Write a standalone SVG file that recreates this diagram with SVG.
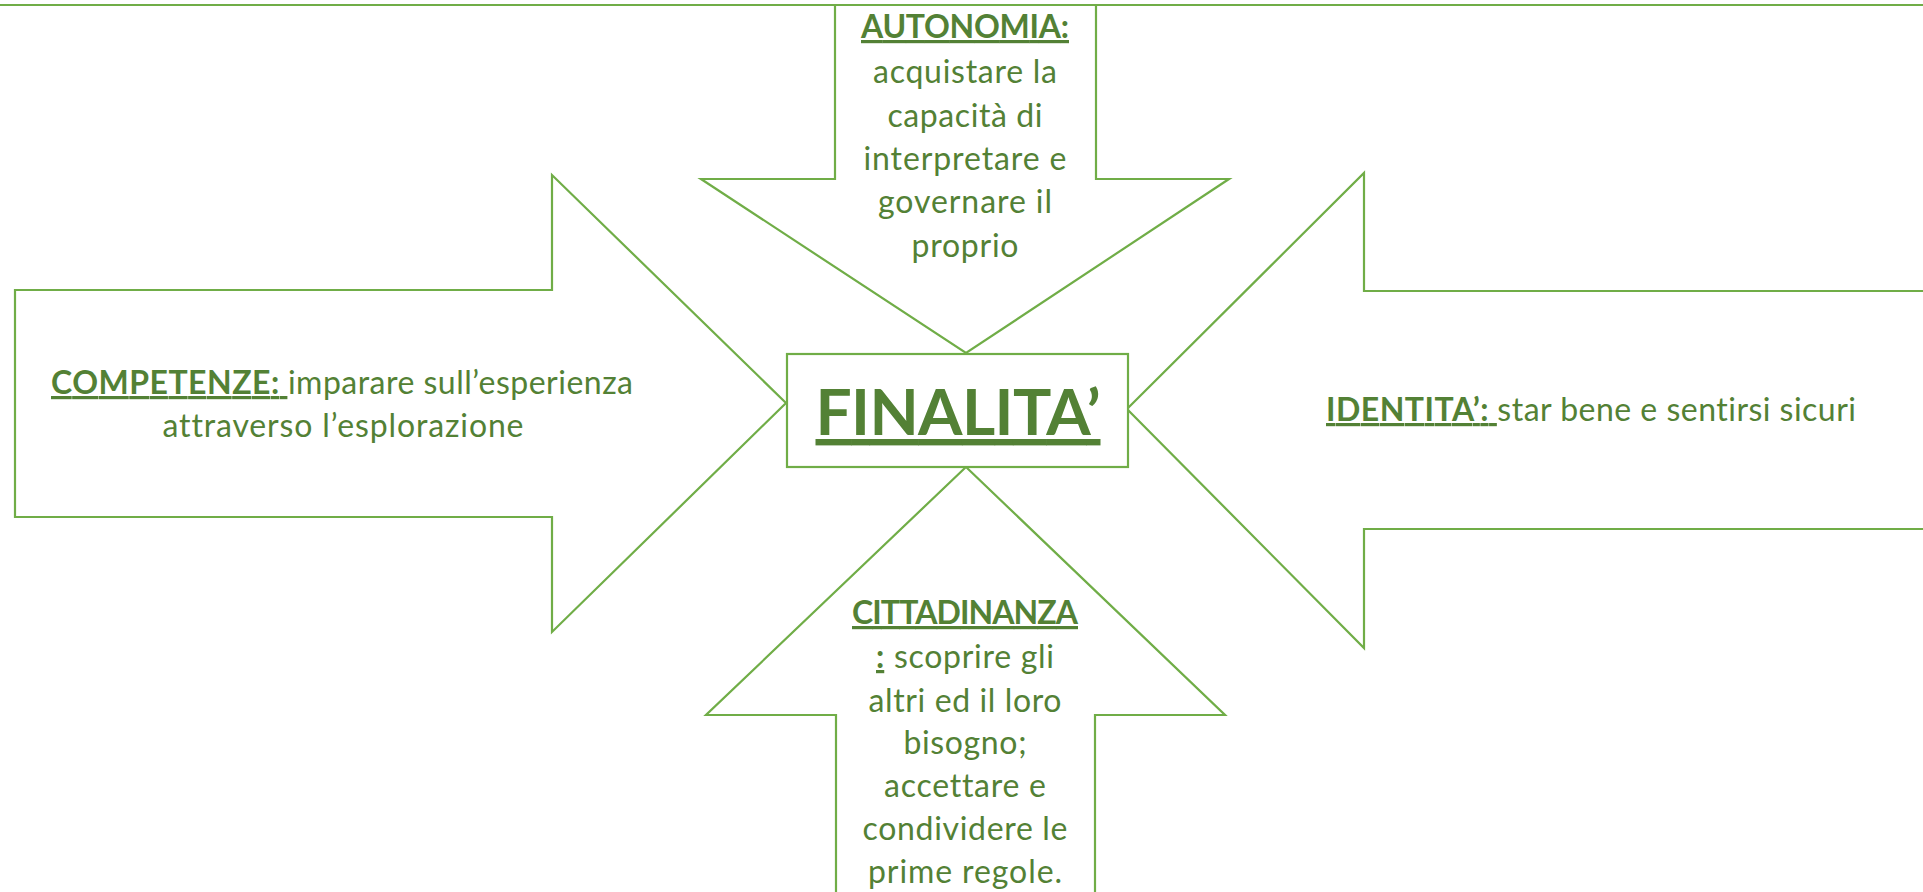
<svg xmlns="http://www.w3.org/2000/svg" width="1923" height="892" viewBox="0 0 1923 892">
<style>
.shape{fill:#ffffff;stroke:#70AD47;stroke-width:2.2;stroke-linejoin:miter}
.t{font-family:Lato,"Open Sans","Liberation Sans",sans-serif;font-size:32px;fill:#538135;font-variant-ligatures:none}
.c{text-anchor:middle}
.b{font-weight:bold}
.u{text-decoration:underline}
.big{font-family:Lato,"Open Sans","Liberation Sans",sans-serif;font-size:64px;font-weight:bold;fill:#538135;text-anchor:middle;text-decoration:underline}
</style>
<rect x="0" y="0" width="1923" height="892" fill="#ffffff"/>
<g id="connectors">
<line x1="0" y1="5" x2="1923" y2="5" stroke="#70AD47" stroke-width="2.2"/>
</g>
<g id="autonomia">
<polygon class="shape" points="835,5 1096,5 1096,179 1229,179 966,353 701,179 835,179"/>
<text class="t c" x="965" y="38" textLength="208"><tspan class="b u">AUTONOMIA:</tspan></text>
<text class="t c" x="965" y="83" textLength="184">acquistare la</text>
<text class="t c" x="965" y="127" textLength="155">capacità di</text>
<text class="t c" x="965" y="170" textLength="203">interpretare e</text>
<text class="t c" x="965" y="213" textLength="174">governare il</text>
<text class="t c" x="965" y="257" textLength="107">proprio</text>
</g>
<g id="competenze">
<polygon class="shape" points="15,290 552,290 552,175 786,403 552,632 552,517 15,517"/>
<text class="t c" x="342" y="394" textLength="582"><tspan class="b u">COMPETENZE: </tspan>imparare sull’esperienza</text>
<text class="t c" x="343" y="437" textLength="361">attraverso l’esplorazione</text>
</g>
<g id="identita">
<polygon class="shape" points="1930,291 1364,291 1364,173 1127,409 1364,648 1364,529 1930,529"/>
<text class="t c" x="1591" y="421" textLength="530"><tspan class="b u">IDENTITA’: </tspan>star bene e sentirsi sicuri</text>
</g>
<g id="cittadinanza">
<polygon class="shape" points="836,900 836,715 706,715 966,467 1225,715 1095,715 1095,900"/>
<text class="t c" x="965" y="624" textLength="226"><tspan class="b u">CITTADINANZA</tspan></text>
<text class="t c" x="965" y="668" textLength="178"><tspan class="b u">:</tspan> scoprire gli</text>
<text class="t c" x="965" y="712" textLength="193">altri ed il loro</text>
<text class="t c" x="965" y="754" textLength="123">bisogno;</text>
<text class="t c" x="965" y="797" textLength="162">accettare e</text>
<text class="t c" x="965" y="840" textLength="205">condividere le</text>
<text class="t c" x="965" y="883" textLength="194">prime regole.</text>
</g>
<g id="finalita">
<rect class="shape" x="787" y="354" width="341" height="113"/>
<text class="big" x="958" y="435" textLength="285">FINALITA’</text>
</g>
</svg>
